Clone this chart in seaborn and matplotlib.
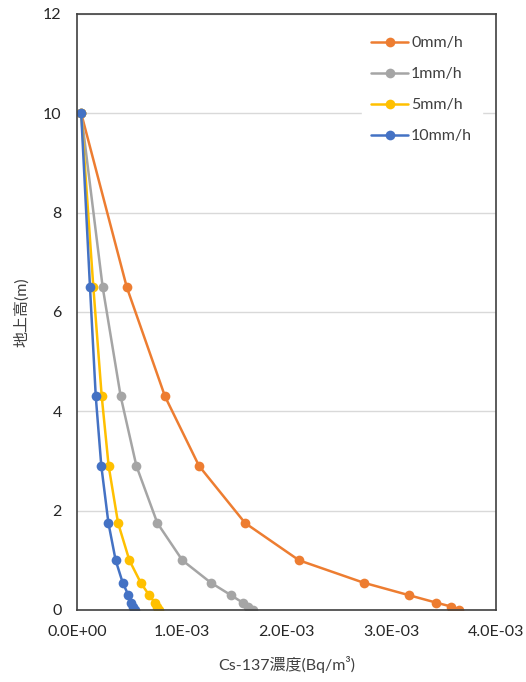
"""Cs-137 concentration vs height for several rainfall intensities."""

import matplotlib.pyplot as plt
import numpy as np
import pandas as pd
import seaborn as sns
from matplotlib.ticker import FormatStrFormatter, MultipleLocator

heights = [10.0, 6.5, 4.3, 2.9, 1.75, 1.0, 0.55, 0.3, 0.15, 0.07, 0.0]
conc_0mm = [0.04e-3, 0.475e-3, 0.84e-3, 1.165e-3, 1.605e-3, 2.12e-3, 2.735e-3, 3.165e-3, 3.425e-3, 3.57e-3, 3.65e-3]
conc_1mm = [0.04e-3, 0.245e-3, 0.417e-3, 0.567e-3, 0.767e-3, 1.006e-3, 1.277e-3, 1.468e-3, 1.58e-3, 1.636e-3, 1.678e-3]
conc_5mm = [0.04e-3, 0.156e-3, 0.236e-3, 0.302e-3, 0.392e-3, 0.5e-3, 0.608e-3, 0.688e-3, 0.742e-3, 0.76e-3, 0.783e-3]
conc_10mm = [0.04e-3, 0.124e-3, 0.179e-3, 0.232e-3, 0.3e-3, 0.369e-3, 0.436e-3, 0.49e-3, 0.516e-3, 0.532e-3, 0.551e-3]
series_names = ["0mm/h", "1mm/h", "5mm/h", "10mm/h"]
x_tick_labels = ["0.0E+00", "1.0E-03", "2.0E-03", "3.0E-03", "4.0E-03"]
colors = ["#ED7D31", "#A5A5A5", "#FFC000", "#4472C4"]


if __name__ == "__main__":
    sns.set_style("white")
    plt.rcParams["font.family"] = ["Lato", "Noto Sans CJK JP", "DejaVu Sans"]

    df = pd.concat(
        [
            pd.DataFrame({"height": heights, "conc": vals, "rain": name})
            for name, vals in zip(series_names, [conc_0mm, conc_1mm, conc_5mm, conc_10mm])
        ],
        ignore_index=True,
    )

    fig = plt.figure(figsize=(5.26, 6.82), dpi=100)
    ax = fig.add_axes([0.1464, 0.1056, 0.7966, 0.8739])
    sns.lineplot(
        data=df,
        x="conc",
        y="height",
        hue="rain",
        hue_order=series_names,
        palette=colors,
        sort=False,
        estimator=None,
        marker="o",
        markersize=7,
        markeredgewidth=0,
        linewidth=1.8,
        ax=ax,
    )

    ax.set_xlim(0, 4e-3)
    ax.set_ylim(0, 12)
    ax.xaxis.set_minor_locator(MultipleLocator(2e-4))
    ax.yaxis.set_major_locator(MultipleLocator(2))
    ax.yaxis.set_minor_locator(MultipleLocator(0.4))
    ax.set_xticks(np.arange(0, 4.01e-3, 1e-3))
    ax.set_xticklabels(x_tick_labels)
    ax.yaxis.set_major_formatter(FormatStrFormatter("%d"))
    ax.tick_params(axis="both", which="both", direction="out", color="#404040",
                   labelsize=11.5, labelcolor="#262626", length=5, width=1)
    ax.tick_params(axis="y", which="major", pad=6)
    ax.tick_params(axis="x", which="major", pad=6)
    ax.grid(axis="y", which="major", color="#D9D9D9", linewidth=1)
    ax.set_axisbelow(True)
    for side in ["left", "bottom", "top", "right"]:
        ax.spines[side].set_color("#404040")
        ax.spines[side].set_linewidth(1.2)

    ax.set_xlabel("Cs-137濃度(Bq/m³)", fontsize=11.5, color="#404040", labelpad=12)
    ax.set_ylabel("地上高(m)", fontsize=11.5, color="#404040", labelpad=10)

    leg = ax.legend(
        loc="upper right",
        bbox_to_anchor=(0.985, 0.992),
        frameon=True,
        fontsize=11.5,
        handlelength=2.3,
        handletextpad=0.2,
        labelspacing=1.05,
        borderpad=0.6,
    )
    leg.get_frame().set_facecolor("white")
    leg.get_frame().set_edgecolor("white")
    leg.get_frame().set_alpha(1.0)
    for text in leg.get_texts():
        text.set_color("#404040")

    plt.savefig("out.png", dpi=100)
